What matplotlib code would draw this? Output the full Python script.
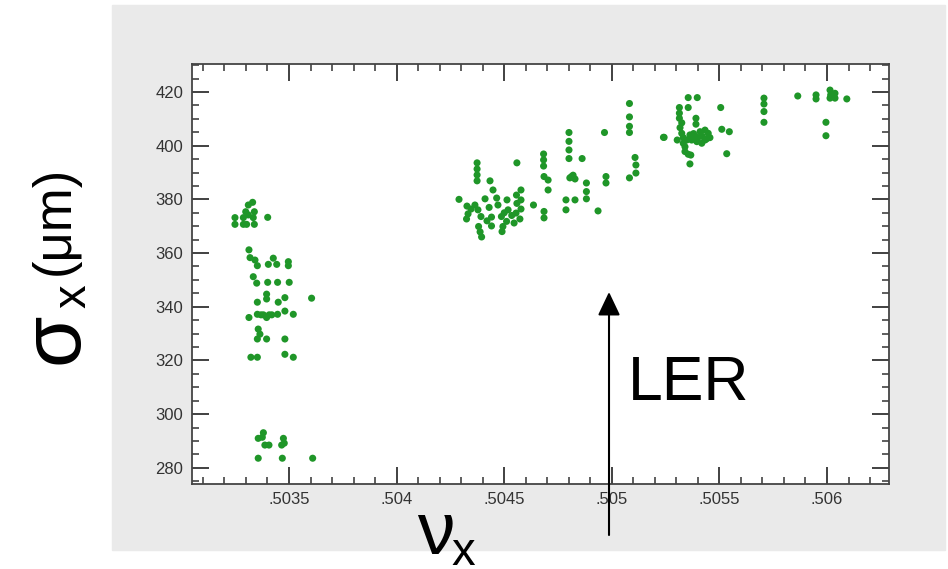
import matplotlib
matplotlib.use("Agg")
import matplotlib.pyplot as plt
from matplotlib.patches import Rectangle
from matplotlib.ticker import MultipleLocator, FuncFormatter

plt.rcParams['font.family'] = ['Liberation Sans', 'DejaVu Sans']

# tune scan points, grouped by cluster (nu_x, sigma_x in um)
nu_left = [0.503331, 0.503311, 0.503339, 0.503299, 0.503311, 0.503249, 0.503288,
           0.503334, 0.503401, 0.503249, 0.503288, 0.503303, 0.503339,
           0.503314, 0.503319, 0.503342, 0.503353, 0.503404, 0.503427, 0.503443,
           0.503497, 0.503497, 0.503334, 0.503350, 0.503401, 0.503447, 0.503501,
           0.503396, 0.503396, 0.503353, 0.503450, 0.503481, 0.503605, 0.503314,
           0.503353, 0.503381, 0.503396, 0.503420, 0.503447, 0.503481, 0.503520,
           0.503370, 0.503408, 0.503357, 0.503353, 0.503365, 0.503396, 0.503481,
           0.503323, 0.503353, 0.503481, 0.503520]
sig_left = [378.9, 377.9, 375.4, 375.4, 374.2, 373.2, 373.2,
            373.2, 373.3, 370.7, 370.7, 370.7, 370.7,
            361.2, 358.3, 357.4, 355.3, 355.8, 358.1, 355.8,
            356.8, 355.3, 351.2, 348.8, 349.1, 349.1, 349.1,
            344.7, 342.9, 341.7, 341.7, 343.4, 343.2, 336.0,
            337.2, 337.0, 336.0, 337.0, 337.2, 338.4, 337.2,
            337.0, 337.0, 331.7, 328.0, 329.8, 328.0, 328.0,
            321.2, 321.2, 322.3, 321.2]

nu_low = [0.503381, 0.503357, 0.503376, 0.503388, 0.503407, 0.503474,
          0.503466, 0.503478, 0.503357, 0.503469, 0.503610]
sig_low = [293.1, 291.0, 291.4, 288.5, 288.5, 291.0,
           288.5, 289.2, 283.6, 283.6, 283.6]

nu_mid = [0.504290, 0.504374, 0.504374, 0.504374, 0.504374, 0.504434, 0.504448,
          0.504411, 0.504364, 0.504346, 0.504332, 0.504325, 0.504327, 0.504378,
          0.504392, 0.504381, 0.504388, 0.504395, 0.504441, 0.504441, 0.504471,
          0.504487, 0.504494, 0.504490, 0.504513, 0.504518, 0.504511, 0.504546,
          0.504557, 0.504559, 0.504555, 0.504578, 0.504578, 0.504578, 0.504573,
          0.504559, 0.504636, 0.504683, 0.504683, 0.504683, 0.504685, 0.504704,
          0.504704, 0.504685, 0.504685, 0.504801, 0.504801, 0.504801, 0.504801,
          0.504862, 0.504813, 0.504829, 0.504787, 0.504787, 0.504829, 0.504882,
          0.504882, 0.504882, 0.504936, 0.504966, 0.504973, 0.504973, 0.505082,
          0.505082, 0.505082, 0.505082, 0.505108, 0.505112, 0.505112, 0.505082,
          0.505240, 0.504805, 0.504820, 0.504420, 0.504430, 0.504465, 0.504500,
          0.504535]
sig_mid = [380.0, 393.6, 391.3, 389.1, 386.9, 386.9, 383.5,
           380.2, 377.9, 376.4, 374.6, 372.7, 377.5, 376.1,
           373.6, 369.9, 367.9, 366.0, 373.4, 370.1, 377.9,
           373.6, 369.9, 368.0, 379.8, 376.1, 371.8, 371.2,
           381.6, 378.5, 374.9, 383.5, 379.8, 376.4, 372.7,
           393.6, 377.9, 396.9, 394.7, 392.4, 388.5, 387.2,
           383.5, 375.5, 373.1, 404.9, 401.6, 398.4, 395.2,
           395.2, 388.5, 387.6, 379.8, 376.1, 379.8, 386.1,
           382.9, 380.2, 375.7, 404.9, 388.5, 386.1, 415.7,
           410.7, 407.2, 404.9, 395.6, 392.8, 389.8, 388.0,
           403.1, 388.0, 389.0, 372.0, 377.0, 380.5, 375.0,
           374.0]

nu_right = [0.505355, 0.505397, 0.505355, 0.505314, 0.505314, 0.505314, 0.505506,
            0.505391, 0.505391, 0.505317, 0.505325, 0.505332, 0.505243, 0.505304,
            0.505348, 0.505363, 0.505371, 0.505410, 0.505433, 0.505448, 0.505456,
            0.505433, 0.505418, 0.505340, 0.505340, 0.505355, 0.505367, 0.505387,
            0.505395, 0.505511, 0.505546, 0.505534, 0.505363, 0.505332, 0.505380,
            0.505400, 0.505420, 0.505440, 0.505325]
sig_right = [417.9, 417.9, 414.2, 414.2, 412.1, 410.2, 414.2,
             410.2, 408.0, 406.7, 404.6, 403.0, 403.1, 402.1,
             402.1, 404.0, 402.1, 405.2, 405.8, 404.6, 403.0,
             402.1, 400.9, 399.6, 397.8, 396.8, 396.5, 403.4,
             401.5, 406.1, 405.2, 397.0, 393.2, 400.9, 404.5,
             403.0, 403.5, 402.5, 408.5]

nu_far = [0.505707, 0.505707, 0.505707, 0.505707, 0.505864, 0.505949, 0.505949,
          0.506014, 0.506017, 0.506037, 0.506037, 0.506014, 0.506092, 0.505995,
          0.505995]
sig_far = [417.7, 415.5, 412.7, 408.7, 418.5, 418.9, 417.4,
           420.7, 418.9, 419.5, 417.7, 417.7, 417.4, 408.7,
           403.7]

# LER working point marker
ler_nu = 0.504987
ler_arrow_from = 255.0
ler_arrow_to = 345.5

W, H = 948, 569
fig = plt.figure(figsize=(W / 100, H / 100), dpi=100)
fig.patches.append(Rectangle((112 / W, 1 - 550 / H), (945 - 112) / W, 545 / H,
                             transform=fig.transFigure, color='#eaeaea', zorder=-1))

ax = fig.add_axes([191.5 / W, 1 - 484 / H, 697.5 / W, 419.7 / H])
ax.set_zorder(1)
ax.set_facecolor('white')

green = '#1f9628'
for nu, sig in [(nu_left, sig_left), (nu_low, sig_low), (nu_mid, sig_mid),
                (nu_right, sig_right), (nu_far, sig_far)]:
    ax.scatter(nu, sig, s=26, color=green, edgecolors='none', zorder=3)

ax.set_xlim(0.503047, 0.506288)
ax.set_ylim(274, 430.3)
ax.xaxis.set_major_locator(MultipleLocator(0.0005))
ax.xaxis.set_minor_locator(MultipleLocator(0.0001))
ax.yaxis.set_major_locator(MultipleLocator(20))
ax.yaxis.set_minor_locator(MultipleLocator(5))
ax.xaxis.set_major_formatter(FuncFormatter(lambda v, p: f'{v:.4f}'.rstrip('0').lstrip('0')))

ax.tick_params(which='both', direction='in', top=True, right=True,
               color='#333333', labelcolor='#333333', labelsize=12)
ax.tick_params(which='major', length=12, width=1.3, pad=6)
ax.tick_params(which='minor', length=5, width=1.1)
for s in ax.spines.values():
    s.set_color('#444444')
    s.set_linewidth(1.3)

ax.annotate('', xy=(ler_nu, ler_arrow_to), xytext=(ler_nu, ler_arrow_from),
            arrowprops=dict(arrowstyle='-|>,head_length=0.4,head_width=0.19',
                            mutation_scale=36, color='black', lw=1.5,
                            shrinkA=0, shrinkB=0),
            annotation_clip=False, zorder=5)
ax.text(0.505075, 305.3, 'LER', fontsize=45, va='baseline', ha='left')

# axis titles built from pieces (big greek letter + subscript)
fig.text(55 / W, 1 - 338 / H, 'σ', fontsize=60, rotation=90, ha='center', va='center')
fig.text(73 / W, 1 - 296 / H, 'x', fontsize=34, rotation=90, ha='center', va='center')
fig.text(55 / W, 1 - 220 / H, '(μm)', fontsize=38, rotation=90, ha='center', va='center')

fig.text(436 / W, 1 - 535 / H, 'ν', fontsize=54, ha='center', va='center')
fig.text(463 / W, 1 - 553 / H, 'x', fontsize=34, ha='center', va='center')

fig.savefig('out.png', dpi=100)
